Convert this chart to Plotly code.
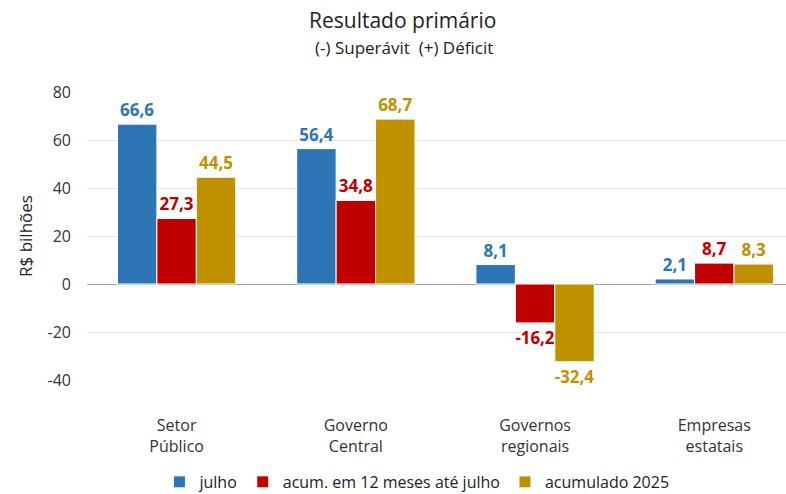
import plotly.graph_objects as go

categories = ["Setor<br>Público", "Governo<br>Central", "Governos<br>regionais", "Empresas<br>estatais"]
series_names = ["julho", "acum. em 12 meses até julho", "acumulado 2025"]
julho = [66.6, 56.4, 8.1, 2.1]
acum12 = [27.3, 34.8, -16.2, 8.7]
acum2025 = [44.5, 68.7, -32.4, 8.3]
y_ticks = [-40, -20, 0, 20, 40, 60, 80]
y_ticktext = ["-40", "-20", "0", "20", "40", "60", "80"]

colors = ["#2E75B6", "#C00000", "#BF9000"]
FONT = "Open Sans"

def fmt(v):
    return f"{v:.1f}".replace(".", ",")

fig = go.Figure()
for name, vals, col in zip(series_names, [julho, acum12, acum2025], colors):
    fig.add_trace(go.Bar(
        x=categories, y=vals, name=name,
        marker=dict(color=col, line=dict(color="white", width=1)),
        text=[fmt(v) for v in vals], textposition="outside",
        textfont=dict(color=col, size=17, family=FONT, weight="bold"),
        cliponaxis=False,
    ))

fig.update_layout(
    width=786, height=494,
    paper_bgcolor="white", plot_bgcolor="white",
    margin=dict(l=87, r=0, t=92, b=114, autoexpand=False),
    barmode="group", bargap=0.34, bargroupgap=0,
    font=dict(family=FONT, size=16, color="#333333"),
    legend=dict(orientation="h", x=0.472, xanchor="center", y=-0.295, yanchor="top",
                font=dict(size=16, color="#222222"), traceorder="normal"),
    annotations=[
        dict(text="Resultado primário", xref="paper", yref="paper", x=0.451, y=1.25,
             xanchor="center", yanchor="middle", showarrow=False,
             font=dict(size=21, color="#222222", family=FONT)),
        dict(text="(-) Superávit  (+) Déficit", xref="paper", yref="paper", x=0.453, y=1.153,
             xanchor="center", yanchor="middle", showarrow=False,
             font=dict(size=17, color="#222222", family=FONT)),
    ],
)
fig.update_yaxes(
    range=[-40, 80], tickvals=y_ticks, ticktext=y_ticktext,
    showgrid=True, gridcolor="#E6E6E6", gridwidth=1,
    zeroline=True, zerolinecolor="#A6A6A6", zerolinewidth=1,
    title=dict(text="R$ bilhões", font=dict(size=17, color="#222222"), standoff=10),
    tickfont=dict(size=16, color="#333333"), ticks="", showline=False,
    ticklabelstandoff=15,
)
fig.update_xaxes(
    range=[-0.5, 3.4], showgrid=False, showline=False, ticks="",
    tickfont=dict(size=16, color="#333333"), ticklabelstandoff=34,
)

fig.write_html("out.html", config={"displayModeBar": False},
               post_script="document.body.style.margin='0';")
